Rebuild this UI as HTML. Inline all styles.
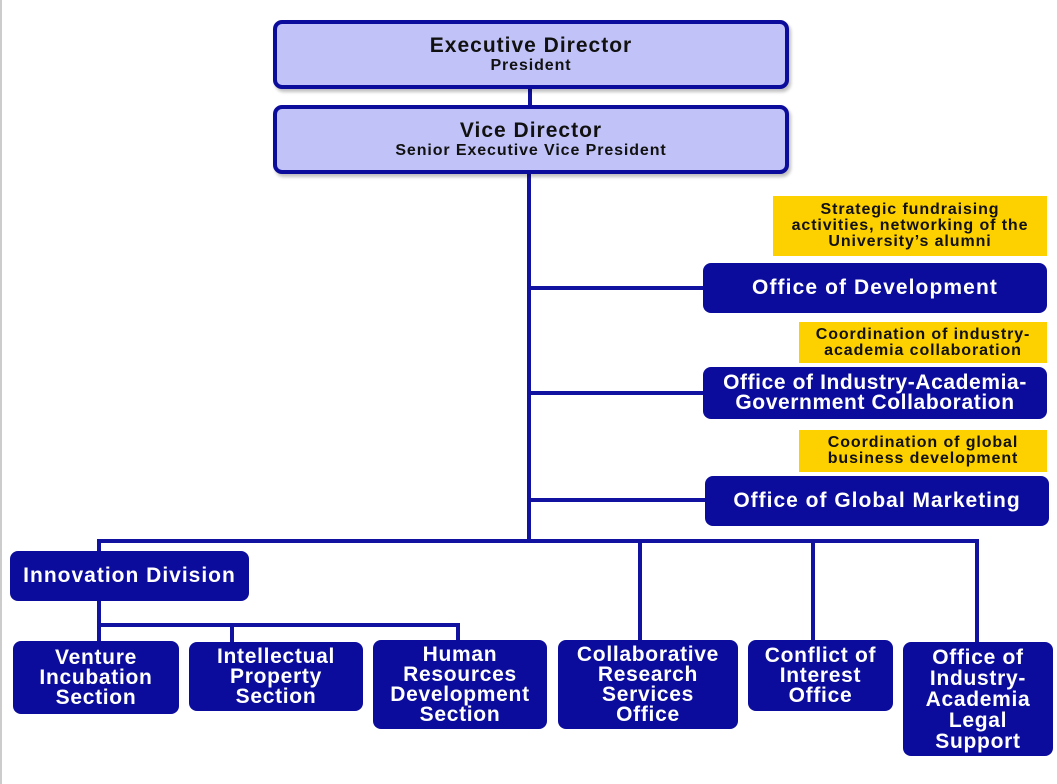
<!DOCTYPE html>
<html><head><meta charset="utf-8"><style>
body{margin:0;width:1057px;height:784px;background:#fff;position:relative;overflow:hidden;font-family:"Liberation Sans",sans-serif;font-weight:bold}
.b{position:absolute;box-sizing:border-box;display:flex;flex-direction:column;align-items:center;justify-content:center;text-align:center;white-space:nowrap}
.d{background:#0c0c9c;color:#fff;border-radius:8px;font-size:21px;line-height:20px;letter-spacing:0.7px}
.y{background:#fdd000;color:#111;font-size:16px;line-height:16px;letter-spacing:0.9px}
.t{background:#c0c2f8;border:4px solid #0c0c9c;border-radius:9px;color:#111;box-shadow:2px 3px 3px rgba(0,0,0,.25)}
.l{position:absolute;background:#1212a0}
</style></head><body>
<div style="position:absolute;left:0;top:0;width:2px;height:784px;background:#ccc"></div>
<div class="l" style="left:528px;top:88px;width:4px;height:20px"></div>
<div class="l" style="left:527px;top:174px;width:4px;height:369px"></div>
<div class="l" style="left:529px;top:286px;width:176px;height:4px"></div>
<div class="l" style="left:529px;top:391px;width:176px;height:4px"></div>
<div class="l" style="left:529px;top:498px;width:178px;height:4px"></div>
<div class="l" style="left:97px;top:539px;width:882px;height:4px"></div>
<div class="l" style="left:97px;top:539px;width:4px;height:14px"></div>
<div class="l" style="left:638px;top:539px;width:4px;height:103px"></div>
<div class="l" style="left:811px;top:539px;width:4px;height:103px"></div>
<div class="l" style="left:975px;top:539px;width:4px;height:105px"></div>
<div class="l" style="left:97px;top:600px;width:4px;height:42px"></div>
<div class="l" style="left:97px;top:623px;width:363px;height:4px"></div>
<div class="l" style="left:230px;top:623px;width:4px;height:20px"></div>
<div class="l" style="left:456px;top:623px;width:4px;height:18px"></div>
<div class="b t" style="left:273px;top:20px;width:516px;height:69px"><div style="font-size:21px;line-height:22px;letter-spacing:1px">Executive Director</div><div style="font-size:16px;line-height:17px;letter-spacing:0.9px">President</div></div>
<div class="b t" style="left:273px;top:105px;width:516px;height:69px"><div style="font-size:21px;line-height:22px;letter-spacing:1px">Vice Director</div><div style="font-size:16px;line-height:17px;letter-spacing:0.9px">Senior Executive Vice President</div></div>
<div class="b y" style="left:773px;top:196px;width:274px;height:60px">Strategic fundraising<br>activities, networking of the<br>University’s alumni</div>
<div class="b y" style="left:799px;top:322px;width:248px;height:41px">Coordination of industry-<br>academia collaboration</div>
<div class="b y" style="left:799px;top:430px;width:248px;height:42px">Coordination of global<br>business development</div>
<div class="b d" style="left:703px;top:263px;width:344px;height:50px;font-size:21px;letter-spacing:1.1px">Office of Development</div>
<div class="b d" style="left:703px;top:367px;width:344px;height:52px;font-size:21px;line-height:20px;letter-spacing:0.6px">Office of Industry-Academia-<br>Government Collaboration</div>
<div class="b d" style="left:705px;top:476px;width:344px;height:50px;letter-spacing:1px">Office of Global Marketing</div>
<div class="b d" style="left:10px;top:551px;width:239px;height:50px;letter-spacing:1px">Innovation Division</div>
<div class="b d" style="left:13px;top:641px;width:166px;height:73px">Venture<br>Incubation<br>Section</div>
<div class="b d" style="left:189px;top:642px;width:174px;height:69px">Intellectual<br>Property<br>Section</div>
<div class="b d" style="left:373px;top:640px;width:174px;height:89px">Human<br>Resources<br>Development<br>Section</div>
<div class="b d" style="left:558px;top:640px;width:180px;height:89px">Collaborative<br>Research<br>Services<br>Office</div>
<div class="b d" style="left:748px;top:640px;width:145px;height:71px">Conflict of<br>Interest<br>Office</div>
<div class="b d" style="left:903px;top:642px;width:150px;height:114px;line-height:21px">Office of<br>Industry-<br>Academia<br>Legal<br>Support</div>
</body></html>
